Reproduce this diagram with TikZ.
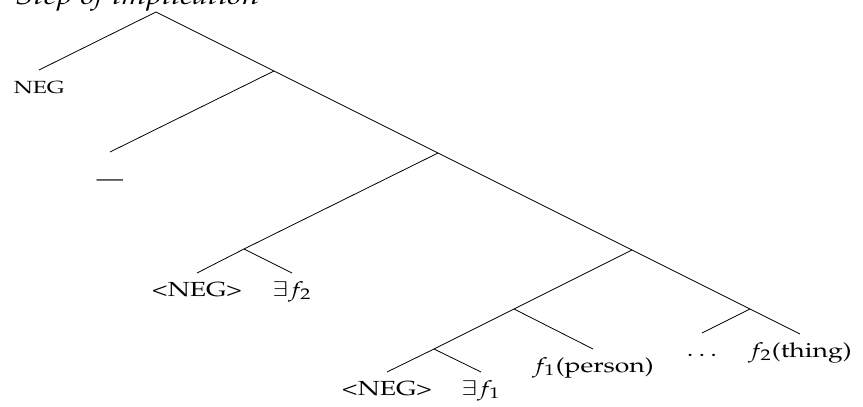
\documentclass[tikz,border=0pt]{standalone}
\usepackage[T1]{fontenc}
\usepackage{mathpazo}
\usepackage{graphicx}
\newcommand{\wide}[1]{\scalebox{1.3}[1]{#1}}
\begin{document}
\begin{tikzpicture}[x=0.5pt, y=-0.5pt, leaf/.style={anchor=north, inner xsep=0pt, inner ysep=4pt, text height=7.3pt, text depth=2pt, font=\fontsize{10.2}{12}\selectfont}]
\useasboundingbox (0,0) rectangle (863,407);
\node[anchor=base west, inner sep=0pt, font=\fontsize{12.4}{15}\selectfont] (title) at (15,4) {\wide{\textit{Step of implication}}};
\coordinate (root) at (156,12);
\coordinate (n1) at (274,71);
\coordinate (n2) at (438,153);
\coordinate (n2a) at (244,249);
\coordinate (n3) at (632,250);
\coordinate (n3a) at (514,309);
\coordinate (n3b) at (434,349);
\coordinate (n4) at (750,309);
\node[leaf, font=\fontsize{8.8}{11}\selectfont] (neg) at (39,70) {\wide{NEG}};
\node[leaf, inner ysep=9pt] (dash) at (110,152) {\wide{---}};
\node[leaf] (neg2) at (197,273) {\wide{<NEG>}};
\node[leaf] (ex2) at (292,273) {\wide{$\exists f_2$}};
\node[leaf] (neg1) at (387,372) {\wide{<NEG>}};
\node[leaf] (ex1) at (481,372) {\wide{$\exists f_1$}};
\node[leaf] (person) at (593,349) {\wide{$f_1$(person)}};
\node[leaf] (dots) at (702,333) {\wide{$\dots$}};
\node[leaf] (thing) at (800,334) {\wide{$f_2$(thing)}};
\draw (neg.north) -- (root) -- (n1) -- (n2) -- (n3) -- (n4) -- (thing.north);
\draw (n1) -- (dash.north);
\draw (n2) -- (n2a);
\draw (ex2.north) -- (n2a) -- (neg2.north);
\draw (n3) -- (n3a) -- (n3b);
\draw (n3a) -- (person.north);
\draw (ex1.north) -- (n3b) -- (neg1.north);
\draw (n4) -- (dots.north);
\end{tikzpicture}
\end{document}
